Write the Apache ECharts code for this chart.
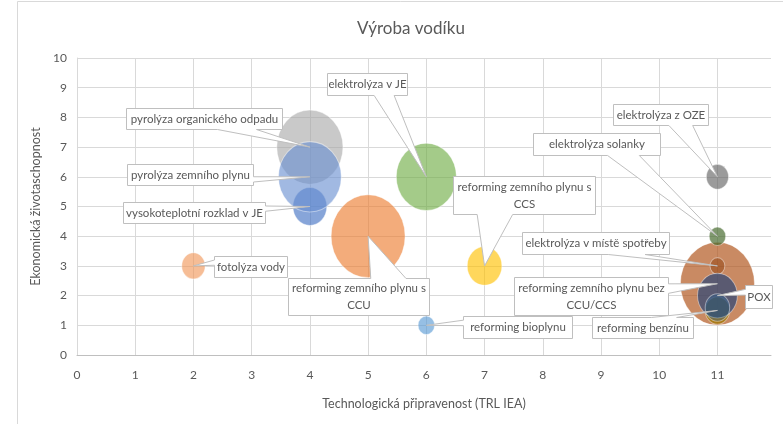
<!DOCTYPE html>
<html>
<head>
<meta charset="utf-8">
<script src="https://cdn.jsdelivr.net/npm/echarts@6/dist/echarts.min.js"></script>
<style>
html,body{margin:0;padding:0;background:#fff;}
#chart{width:783px;height:424px;}
</style>
</head>
<body>
<div id="chart"></div>
<script>
// ---- data ----
const names = [
  'pyrolýza organického odpadu',
  'vysokoteplotní rozklad v JE',
  'pyrolýza zemního plynu',
  'reforming zemního plynu s\nCCU',
  'elektrolýza v JE',
  'reforming zemního plynu s\nCCS',
  'reforming bioplynu',
  'fotolýza vody',
  'elektrolýza z OZE',
  'reforming zemního plynu bez\nCCU/CCS',
  'elektrolýza v místě spotřeby',
  'elektrolýza solanky',
  'reforming benzínu',
  'POX',
  ''
];
const trl  = [4, 4, 4, 5, 6, 7, 6, 2, 11, 11, 11, 11, 11, 11, 11];
const econ = [7, 5, 6, 4, 6, 3, 1, 3, 6, 2.4, 3, 4, 1.5, 2, 1.6];
const bubbleSize = [80, 21, 72, 100, 66, 22, 5, 10, 9, 100, 4, 5, 11, 29, 11];
const xTicks = [0,1,2,3,4,5,6,7,8,9,10,11];
const yTicks = [0,1,2,3,4,5,6,7,8,9,10];

// ---- styles (not data) ----
const fills = [
  'rgba(165,165,165,0.75)',
  'rgba(68,114,196,0.8)',
  'rgba(105,142,208,0.78)',
  'rgba(237,125,49,0.8)',
  'rgba(112,173,71,0.8)',
  'rgba(255,192,0,0.8)',
  'rgba(91,155,213,0.8)',
  'rgba(241,151,90,0.8)',
  'rgba(99,99,99,0.8)',
  'rgba(176,84,26,0.85)',
  'rgba(140,60,10,0.6)',
  'rgba(67,104,43,0.85)',
  'rgba(160,118,0,0.9)',
  'rgba(38,68,120,0.85)',
  'rgba(37,94,145,0.45)'
];
// callout boxes: offset from point (px), width, height
const callouts = [
  {dx:-184, dy:-39, w:156, h:21},
  {dx:-187, dy:-5,  w:142, h:21},
  {dx:-183, dy:-13, w:126, h:21},
  {dx:-80,  dy:42,  w:141, h:37},
  {dx:-99,  dy:-104,w:80,  h:22},
  {dx:-32,  dy:-90, w:142, h:38},
  {dx:37,   dy:-9,  w:109, h:22},
  {dx:21,   dy:-10, w:73,  h:21},
  {dx:-104, dy:-73, w:95,  h:21},
  {dx:-203, dy:-7,  w:154, h:38},
  {dx:-195, dy:-34, w:147, h:22},
  {dx:-184, dy:-103,w:127, h:22},
  {dx:-125, dy:7,   w:101, h:21},
  {dx:28,   dy:-11, w:27,  h:23},
  null
];
const FONT = 'Lato, "Open Sans", sans-serif';
const TXT = '#595959';

function bubblePx(s) {
  const w = 2 * 37 * Math.sqrt(s / 100);
  return [w, w * 1.12];
}

const chart = echarts.init(document.getElementById('chart'), null, {renderer: 'canvas'});

const scatterData = trl.map((x, i) => ({
  value: [x, econ[i], bubbleSize[i]],
  name: names[i],
  itemStyle: {color: fills[i]}
}));

const calloutData = [];
trl.forEach((x, i) => { if (callouts[i]) calloutData.push([x, econ[i], i]); });

function renderCallout(params, api) {
  const p = api.coord([api.value(0), api.value(1)]);
  const i = api.value(2);
  const c = callouts[i];
  const l = Math.round(p[0] + c.dx) + 0.5, t = Math.round(p[1] + c.dy) + 0.5;
  const w = c.w, h = c.h, r = l + w, b = t + h;
  const cx = l + w / 2, cy = t + h / 2;
  const ax = p[0], ay = p[1];
  const dxPos = ax - cx, dyPos = ay - cy;
  const dxs = dxPos * h, dys = dyPos * w;
  const xg1 = dxPos > 0 ? 7 : 2, xg2 = dxPos > 0 ? 10 : 5;
  const yg1 = dyPos > 0 ? 7 : 2, yg2 = dyPos > 0 ? 10 : 5;
  const bx1 = l + w * xg1 / 12, bx2 = l + w * xg2 / 12;
  const by1 = t + h * yg1 / 12, by2 = t + h * yg2 / 12;
  const inside = ax >= l && ax <= r && ay >= t && ay <= b;
  const pts = [[l, t]];
  if (!inside && Math.abs(dxs) <= Math.abs(dys) && dyPos < 0) pts.push([bx1, t], [ax, ay], [bx2, t]);
  pts.push([r, t]);
  if (!inside && Math.abs(dxs) > Math.abs(dys) && dxPos > 0) pts.push([r, by1], [ax, ay], [r, by2]);
  pts.push([r, b]);
  if (!inside && Math.abs(dxs) <= Math.abs(dys) && dyPos >= 0) pts.push([bx2, b], [ax, ay], [bx1, b]);
  pts.push([l, b]);
  if (!inside && Math.abs(dxs) > Math.abs(dys) && dxPos <= 0) pts.push([l, by2], [ax, ay], [l, by1]);
  return {
    type: 'group',
    children: [
      {type: 'polygon', shape: {points: pts},
       style: {fill: '#ffffff', stroke: '#bfbfbf', lineWidth: 1}},
      {type: 'text',
       style: {text: names[i], x: cx, y: cy, align: 'center', verticalAlign: 'middle',
               fill: TXT, fontSize: 11.5, fontFamily: FONT, lineHeight: 17}}
    ]
  };
}

chart.setOption({
  animation: false,
  backgroundColor: '#ffffff',
  graphic: [{
    type: 'rect', shape: {x: 17.5, y: 1.5, width: 800, height: 500},
    style: {fill: 'none', stroke: '#d9d9d9', lineWidth: 1}, silent: true, z: -1
  }],
  title: {
    text: 'Výroba vodíku', left: 406, top: 15, textAlign: 'center',
    textStyle: {fontFamily: FONT, fontSize: 17, fontWeight: 'normal', color: TXT}
  },
  grid: {left: 77, right: 12, top: 58, bottom: 69, containLabel: false},
  xAxis: {
    type: 'value', min: 0, max: 11.92, interval: 1,
    name: 'Technologická připravenost (TRL IEA)', nameLocation: 'middle', nameGap: 42,
    nameTextStyle: {fontFamily: FONT, fontSize: 12.5, color: TXT},
    axisLine: {show: true, lineStyle: {color: '#bfbfbf', width: 1}},
    axisTick: {show: false},
    axisLabel: {margin: 14, fontFamily: FONT, fontSize: 12, color: TXT,
      formatter: v => (xTicks.indexOf(v) >= 0 ? String(v) : '')},
    splitLine: {show: true, showMaxLine: false, lineStyle: {color: '#d9d9d9', width: 1}}
  },
  yAxis: {
    type: 'value', min: 0, max: 10, interval: 1,
    name: 'Ekonomická životaschopnost', nameLocation: 'middle', nameGap: 33,
    nameTextStyle: {fontFamily: FONT, fontSize: 12.5, color: TXT},
    axisLine: {show: true, lineStyle: {color: '#d9d9d9', width: 1}},
    axisTick: {show: false},
    axisLabel: {margin: 10, fontFamily: FONT, fontSize: 12, color: TXT,
      formatter: v => (yTicks.indexOf(v) >= 0 ? String(v) : '')},
    splitLine: {show: true, lineStyle: {color: '#d9d9d9', width: 1}}
  },
  series: [
    {
      type: 'scatter',
      data: scatterData,
      symbol: 'circle',
      symbolSize: v => bubblePx(v[2]),
      itemStyle: {borderColor: 'rgba(255,255,255,0.55)', borderWidth: 1},
      emphasis: {disabled: true},
      z: 2
    },
    {
      type: 'custom',
      data: calloutData,
      renderItem: renderCallout,
      z: 5,
      silent: true
    }
  ]
});
</script>
</body>
</html>
